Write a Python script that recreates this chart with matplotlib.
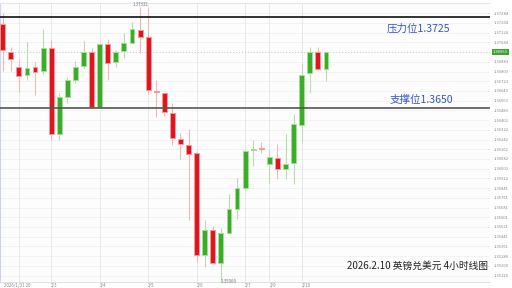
import matplotlib
matplotlib.use('Agg')
import matplotlib.pyplot as plt

plt.rcParams['font.family'] = ['Noto Sans CJK SC', 'DejaVu Sans']

# GBP/USD 4小时K线 (开, 高, 低, 收)
opens = [1.37196, 1.36968, 1.36845, 1.36779, 1.36840, 1.36807, 1.36996, 1.36286, 1.36593, 1.36730,
         1.36851, 1.36968, 1.36511, 1.37032, 1.36881, 1.36974, 1.37042, 1.37147, 1.37087, 1.36643,
         1.36629, 1.36462, 1.36251, 1.36199, 1.36133, 1.35291, 1.35494, 1.35223, 1.35472, 1.35669,
         1.35845, 1.36152, 1.36171, 1.36037, 1.36092, 1.35996, 1.36045, 1.36366, 1.36791, 1.36968,
         1.36824]
highs = [1.37289, 1.37009, 1.36906, 1.37050, 1.36886, 1.37152, 1.37064, 1.36626, 1.36760, 1.36894,
         1.37059, 1.36996, 1.37037, 1.37070, 1.36982, 1.37124, 1.37215, 1.37332, 1.37325, 1.36730,
         1.36637, 1.36544, 1.36297, 1.36330, 1.36138, 1.35576, 1.35525, 1.35511, 1.35790, 1.35927,
         1.36160, 1.36237, 1.36223, 1.36160, 1.36207, 1.36292, 1.36456, 1.36873, 1.37009, 1.37004,
         1.36966]
lows = [1.36812, 1.36804, 1.36631, 1.36736, 1.36612, 1.36785, 1.36242, 1.36237, 1.36544, 1.36713,
        1.36832, 1.36503, 1.36503, 1.36736, 1.36845, 1.36914, 1.37037, 1.36955, 1.36620, 1.36429,
        1.36434, 1.36199, 1.36078, 1.35576, 1.35229, 1.35188, 1.35217, 1.35069, 1.35469, 1.35590,
        1.35826, 1.36023, 1.36133, 1.35886, 1.35913, 1.35913, 1.35872, 1.36215, 1.36626, 1.36818,
        1.36722]
closes = [1.36982, 1.36906, 1.36769, 1.36834, 1.36799, 1.36996, 1.36286, 1.36590, 1.36730, 1.36845,
          1.36968, 1.36511, 1.37032, 1.36878, 1.36963, 1.37042, 1.37155, 1.37092, 1.36648, 1.36634,
          1.36467, 1.36253, 1.36207, 1.36125, 1.35291, 1.35492, 1.35223, 1.35469, 1.35669, 1.35845,
          1.36146, 1.36166, 1.36168, 1.36100, 1.35996, 1.36043, 1.36371, 1.36777, 1.36968, 1.36826,
          1.36963]

ytick_vals = [1.37284, 1.37204, 1.37124, 1.37044, 1.36883, 1.36803, 1.36723, 1.36643, 1.36563,
              1.36483, 1.36402, 1.36322, 1.36242, 1.36162, 1.36082, 1.36002, 1.35922, 1.35841,
              1.35761, 1.35681, 1.35601, 1.35521, 1.35441, 1.35361, 1.35280, 1.35200, 1.35120]
date_pos = [2, 6, 12, 18, 24, 30, 33, 37]
date_labels = ['', '2/3', '2/4', '2/5', '2/6', '2/7', '2/9', '2/10']

resistance = 1.3725
support = 1.3650
last_price = 1.36963
high_price = 1.37332
high_idx = 17
low_price = 1.35069
low_idx = 27

fig = plt.figure(figsize=(5.12, 2.88), dpi=100)
ax = fig.add_axes([0, 6 / 288, 490 / 512, 279 / 288])
ax.set_facecolor('#fdfdfd')

# 网格
for y in ytick_vals:
    ax.axhline(y, color='#f0f0f0', lw=0.6, zorder=0)
for x in date_pos:
    ax.axvline(x, color='#e8e8e8', lw=0.7, zorder=0)

red, red_edge, red_wick = '#e0161e', '#f39a9a', '#f2b8b8'
green, green_edge, green_wick = '#3aae28', '#a6dc98', '#b8dcb0'

for i in range(len(opens)):
    o, h, l, c = opens[i], highs[i], lows[i], closes[i]
    up = c >= o and i != 32
    col, edge, wick = (green, green_edge, green_wick) if up else (red, red_edge, red_wick)
    if i == 32:
        col = '#f0a8a8'
    ax.vlines(i, l, h, color=wick, lw=0.8, zorder=2)
    body = max(abs(c - o), 0.00003)
    ax.bar(i, body, bottom=min(o, c), width=0.6, color=col, edgecolor=edge, lw=0.7, zorder=3)

# 压力/支撑线
ax.axhline(resistance, color='#111111', lw=1.2, zorder=4)
ax.axhline(support, color='#555555', lw=1.2, zorder=4)
ax.axhline(last_price, color='#c5cde0', lw=0.8, ls=':', zorder=1)

ax.text(51.4, 1.37161, '压力位1.3725', color='#3556c8', fontsize=7.6, ha='center', va='center')
ax.text(51.8, 1.36567, '支撑位1.3650', color='#3556c8', fontsize=7.6, ha='center', va='center')
ax.text(51.3, 1.35201, '2026.2.10 英镑兑美元 4小时线图', color='#222222', fontsize=7.0,
        ha='center', va='center')

ax.text(high_idx, high_price + 0.00005, f'{high_price:.5f}', fontsize=3.2, color='#777777',
        ha='center', va='bottom')
ax.text(low_idx + 1, low_price + 0.00003, f'{low_price:.5f}', fontsize=3.2, color='#777777',
        ha='center', va='center')

ax.set_xlim(-0.334, 60.3)
ax.set_ylim(1.35067, 1.37369)

ax.yaxis.tick_right()
ax.set_yticks(ytick_vals)
ax.set_yticklabels([f'{v:.5f}' for v in ytick_vals])
ax.tick_params(axis='y', length=0, pad=3, labelsize=3.0, labelcolor='#888888')
ax.set_xticks(date_pos)
ax.set_xticklabels(date_labels)
ax.tick_params(axis='x', length=0, pad=0.8, labelsize=3.2, labelcolor='#888888')
for lbl in ax.get_xticklabels():
    lbl.set_ha('left')
ax.text(0.1, -0.0025, '2026/1/31 20:', transform=ax.get_xaxis_transform(), fontsize=3.2,
        color='#888888', va='top', ha='left')

ax.text(1.006, last_price, f'{last_price:.5f}', transform=ax.get_yaxis_transform(),
        fontsize=3.0, color='white', va='center', ha='left',
        bbox=dict(boxstyle='square,pad=0.25', fc='#3aa530', ec='none'))

ax.spines['right'].set_visible(False)
ax.spines['left'].set_color('#c8d4f0')
ax.spines['bottom'].set_color('#dddddd')
ax.spines['bottom'].set_linewidth(0.6)
ax.spines['top'].set_color('#e4e8ee')

fig.savefig('out.png', dpi=100, facecolor='white')
